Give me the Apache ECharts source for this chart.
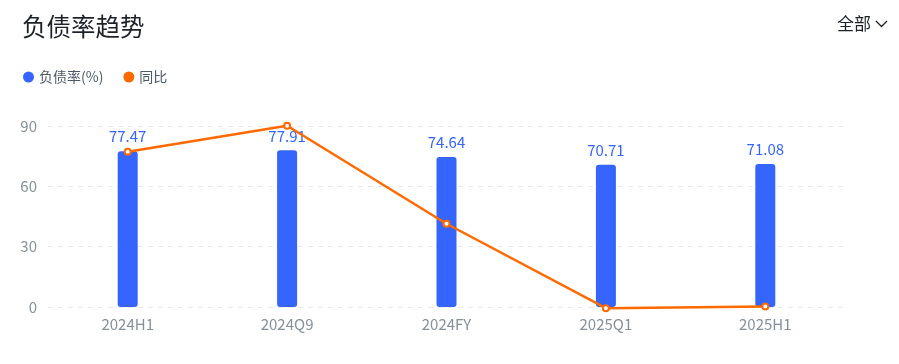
<!DOCTYPE html>
<html><head><meta charset="utf-8">
<script src="https://cdn.jsdelivr.net/npm/echarts@6/dist/echarts.min.js"></script>
<style>html,body{margin:0;padding:0;background:#fff}#c{width:899px;height:364px}</style>
</head><body><div id="c"></div>
<script>
const categories = ['2024H1','2024Q9','2024FY','2025Q1','2025H1'];
const debtRatio = [77.47, 77.91, 74.64, 70.71, 71.08];
const yoy = [77.2, 90.1, 41.4, -0.6, 0.3];
const yTicks = [0, 30, 60, 90];

const chart = echarts.init(document.getElementById('c'));
const font = '"Noto Sans CJK SC", "Noto Sans", sans-serif';
chart.setOption({
  animation: false,
  textStyle: {fontFamily: font},
  title: {text: '负债率趋势', left: 17, top: 9, textStyle: {fontSize: 24.5, fontWeight: 'normal', color: '#1d2129', fontFamily: font}},
  graphic: [
    {type: 'text', left: 837, top: 15, style: {text: '全部', fontSize: 17, fill: '#1d2129', fontFamily: font}},
    {type: 'polyline', shape: {points: [[876, 21], [881.5, 26.5], [887, 21]]}, style: {stroke: '#1d2129', lineWidth: 1.3, fill: null}}
  ],
  legend: {left: 18, top: 65, icon: 'circle', itemWidth: 11, itemHeight: 11, itemGap: 20,
    textStyle: {color: '#4e5969', fontSize: 14, fontFamily: font}},
  grid: {left: 48, right: 54, top: 126, bottom: 57},
  xAxis: {type: 'category', data: categories,
    axisLine: {show: false}, axisTick: {show: false},
    axisLabel: {color: '#86909c', fontSize: 15, margin: 10}},
  yAxis: {type: 'value', min: yTicks[0], max: yTicks[yTicks.length - 1], interval: 30,
    axisLabel: {color: '#86909c', fontSize: 15, margin: 11},
    axisLine: {show: false}, axisTick: {show: false},
    splitLine: {lineStyle: {color: '#e8e9ed', type: [5, 5], width: 1}}},
  series: [
    {name: '负债率(%)', type: 'bar', data: debtRatio, barWidth: 20,
      itemStyle: {color: '#3565fd', borderRadius: 3},
      label: {show: true, position: 'top', distance: 7, color: '#3565fd', fontSize: 15}},
    {name: '同比', type: 'line', data: yoy, clip: false, symbol: 'emptyCircle', symbolSize: 6,
      lineStyle: {color: '#ff6a00', width: 2.5}, itemStyle: {color: '#ff6a00', borderWidth: 2}}
  ]
});
</script></body></html>
